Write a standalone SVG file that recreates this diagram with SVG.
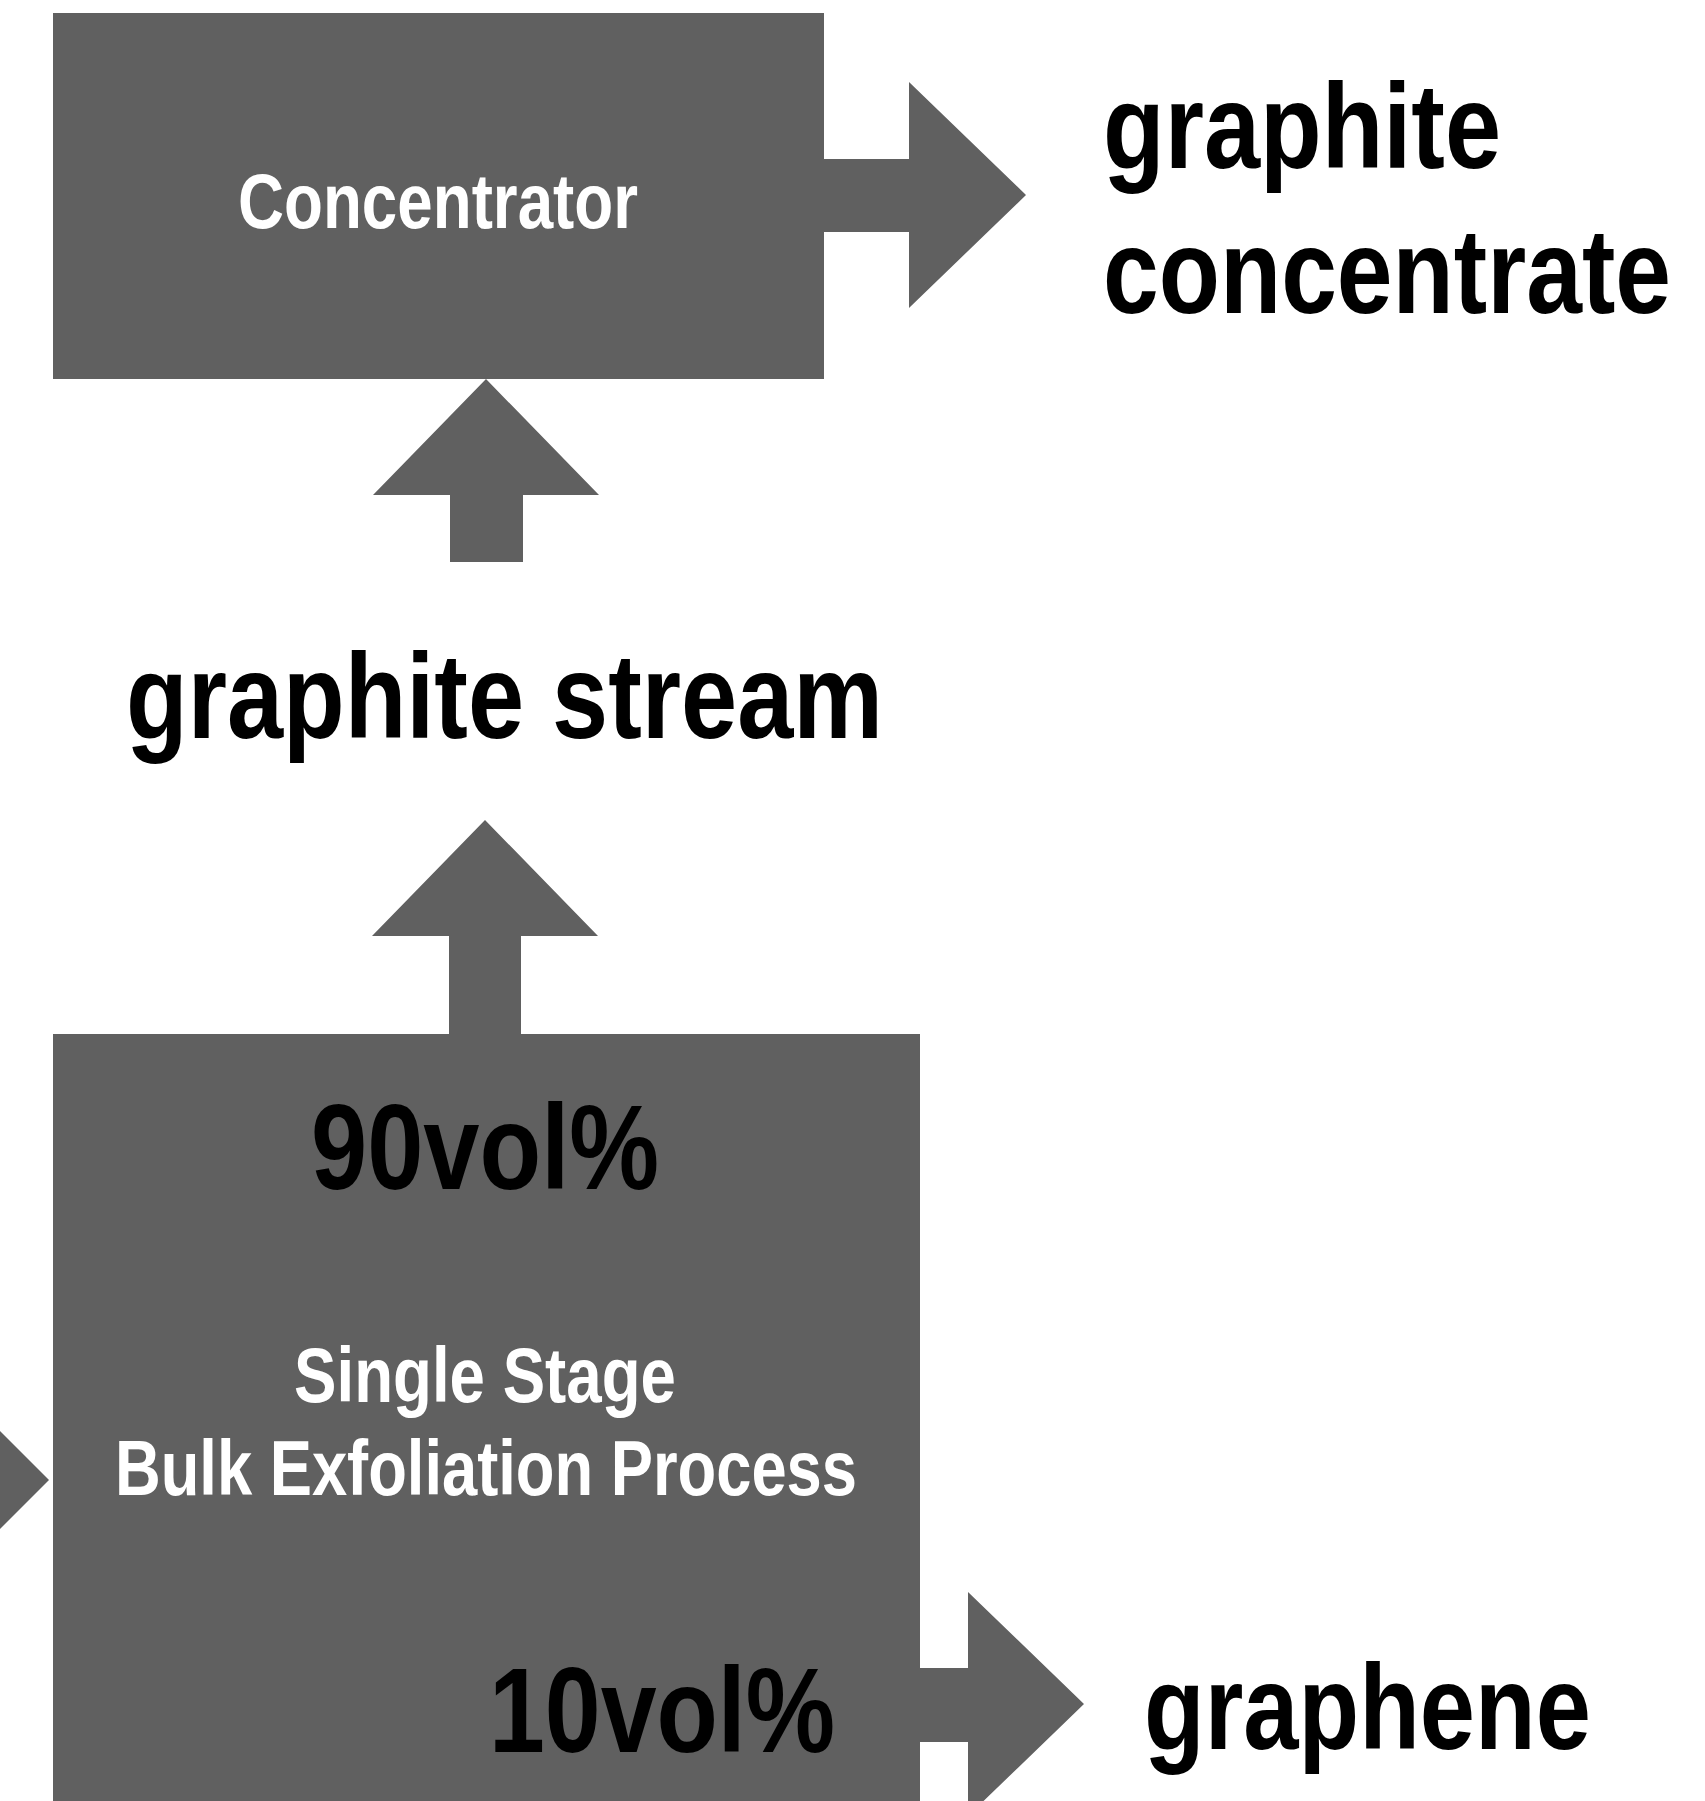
<svg xmlns="http://www.w3.org/2000/svg" width="1705" height="1801" viewBox="0 0 1705 1801">
<style>
.box{fill:#606060}
.arr{fill:#606060}
.t{font-family:"Liberation Sans Narrow","Liberation Sans",Arial,sans-serif;font-weight:bold}
.big{font-size:120px;fill:#000}
.w{font-size:77px;fill:#fff}
</style>
<rect width="1705" height="1801" fill="#fff"/>
<g id="concentrator">
<rect class="box" x="53" y="13" width="771" height="366"/>
<text class="t w" x="238" y="228" textLength="400" lengthAdjust="spacingAndGlyphs">Concentrator</text>
</g>
<g id="process">
<rect class="box" x="53" y="1034" width="867" height="800"/>
<text class="t big" x="311" y="1189" textLength="348" lengthAdjust="spacingAndGlyphs">90vol%</text>
<text class="t w" x="294" y="1402" textLength="382" lengthAdjust="spacingAndGlyphs">Single Stage</text>
<text class="t w" x="115" y="1495" textLength="742" lengthAdjust="spacingAndGlyphs">Bulk Exfoliation Process</text>
<text class="t big" x="489" y="1752" textLength="346" lengthAdjust="spacingAndGlyphs">10vol%</text>
</g>
<g id="graphite-concentrate">
<text class="t big" x="1103" y="168" textLength="398" lengthAdjust="spacingAndGlyphs">graphite</text>
<text class="t big" x="1103" y="313" textLength="568" lengthAdjust="spacingAndGlyphs">concentrate</text>
</g>
<g id="graphite-stream">
<text class="t big" x="126" y="738" textLength="757" lengthAdjust="spacingAndGlyphs">graphite stream</text>
</g>
<g id="graphene">
<text class="t big" x="1144" y="1749" textLength="447" lengthAdjust="spacingAndGlyphs">graphene</text>
</g>
<g id="connectors">
<polygon class="arr" points="824,159 909,159 909,82 1026,195 909,308 909,232 824,232"/>
<polygon class="arr" points="450,562 450,495 373,495 486,379 599,495 523,495 523,562"/>
<polygon class="arr" points="449,1034 449,936 372,936 485,820 598,936 521,936 521,1034"/>
<polygon class="arr" points="-10,1421 49,1480 -10,1539"/>
<polygon class="arr" points="920,1668 968,1668 968,1592 1084,1704 968,1816 968,1742 920,1742"/>
</g>
</svg>
